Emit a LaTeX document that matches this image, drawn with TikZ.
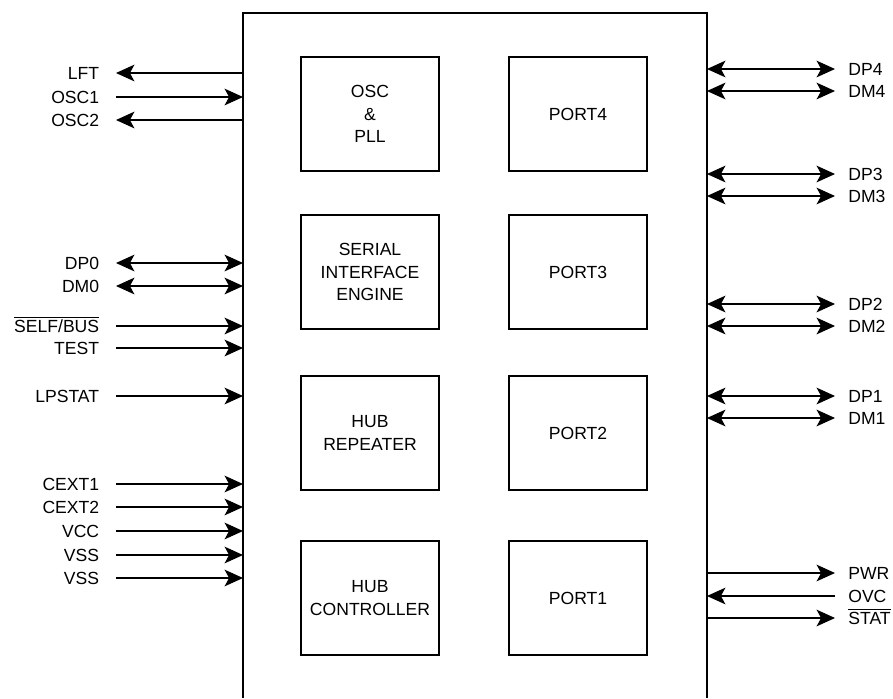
\documentclass[tikz,border=0pt]{standalone}
\usepackage{fontspec}
\setmainfont{Liberation Sans}
\usetikzlibrary{arrows.meta}
\newcommand{\barsig}[1]{$\overline{\mbox{#1}}$}
\begin{document}
\begin{tikzpicture}[x=0.02cm, y=-0.02cm,
    >={Stealth[length=10.5pt, width=9.5pt, inset=2.6pt]},
    blk/.style={draw, line width=1.1pt, minimum width=2.76cm, minimum height=2.28cm,
        align=center, font=\fontsize{10}{13}\selectfont},
    lpin/.style={anchor=east, inner xsep=9.4pt, inner ysep=0pt, text height=7.2pt,
        text depth=0pt, font=\fontsize{10}{12}\selectfont},
    rpin/.style={anchor=west, inner xsep=7.4pt, inner ysep=0pt, text height=7.2pt,
        text depth=0pt, font=\fontsize{10}{12}\selectfont},
    sig/.style={line width=0.6pt}]
            \useasboundingbox (0,0) rectangle (893,698);
            % chip outline, open at the bottom
            \draw[line width=1.1pt] (243,698) -- (243,13) -- (707,13) -- (707,698);
            \coordinate (chipL) at (243,0);
            \coordinate (chipR) at (707,0);
            % blocks inside the chip
            \node[blk] (osc) at (370,114) {OSC\\\&\\PLL};
            \node[blk] (sie) at (370,272) {SERIAL\\INTERFACE\\ENGINE};
            \node[blk] (rep) at (370,433) {HUB\\REPEATER};
            \node[blk] (ctl) at (370,598) {HUB\\CONTROLLER};
            \node[blk] (port4) at (578,114) {PORT4};
            \node[blk] (port3) at (578,272) {PORT3};
            \node[blk] (port2) at (578,433) {PORT2};
            \node[blk] (port1) at (578,598) {PORT1};
            % left pins
            \node[lpin] (lft) at (116,73) {LFT};
            \node[lpin] (osc1) at (116,97) {OSC1};
            \node[lpin] (osc2) at (116,120) {OSC2};
            \node[lpin] (dp0) at (116,263) {DP0};
            \node[lpin] (dm0) at (116,286) {DM0};
            \node[lpin] (self) at (116,326) {\barsig{SELF/BUS}};
            \node[lpin] (test) at (116,348) {TEST};
            \node[lpin] (lpstat) at (116,396) {LPSTAT};
            \node[lpin] (cext1) at (116,484) {CEXT1};
            \node[lpin] (cext2) at (116,507) {CEXT2};
            \node[lpin] (vcc) at (116,531) {VCC};
            \node[lpin] (vssa) at (116,555) {VSS};
            \node[lpin] (vssb) at (116,578) {VSS};
            \draw[sig,<-] (lft.east) -- (lft.east -| chipL);
            \draw[sig,->] (osc1.east) -- (osc1.east -| chipL);
            \draw[sig,<-] (osc2.east) -- (osc2.east -| chipL);
            \draw[sig,<->] (dp0.east) -- (dp0.east -| chipL);
            \draw[sig,<->] (dm0.east) -- (dm0.east -| chipL);
            \draw[sig,->] (self.east) -- (self.east -| chipL);
            \draw[sig,->] (test.east) -- (test.east -| chipL);
            \draw[sig,->] (lpstat.east) -- (lpstat.east -| chipL);
            \draw[sig,->] (cext1.east) -- (cext1.east -| chipL);
            \draw[sig,->] (cext2.east) -- (cext2.east -| chipL);
            \draw[sig,->] (vcc.east) -- (vcc.east -| chipL);
            \draw[sig,->] (vssa.east) -- (vssa.east -| chipL);
            \draw[sig,->] (vssb.east) -- (vssb.east -| chipL);
            % right pins
            \node[rpin] (dp4) at (835,69) {DP4};
            \node[rpin] (dm4) at (835,91) {DM4};
            \node[rpin] (dp3) at (835,174) {DP3};
            \node[rpin] (dm3) at (835,196) {DM3};
            \node[rpin] (dp2) at (835,304) {DP2};
            \node[rpin] (dm2) at (835,326) {DM2};
            \node[rpin] (dp1) at (835,396) {DP1};
            \node[rpin] (dm1) at (835,418) {DM1};
            \node[rpin] (pwr) at (835,573) {PWR};
            \node[rpin] (ovc) at (835,596) {OVC};
            \node[rpin] (stat) at (835,618) {\barsig{STAT}};
            \draw[sig,<->] (dp4.west -| chipR) -- (dp4.west);
            \draw[sig,<->] (dm4.west -| chipR) -- (dm4.west);
            \draw[sig,<->] (dp3.west -| chipR) -- (dp3.west);
            \draw[sig,<->] (dm3.west -| chipR) -- (dm3.west);
            \draw[sig,<->] (dp2.west -| chipR) -- (dp2.west);
            \draw[sig,<->] (dm2.west -| chipR) -- (dm2.west);
            \draw[sig,<->] (dp1.west -| chipR) -- (dp1.west);
            \draw[sig,<->] (dm1.west -| chipR) -- (dm1.west);
            \draw[sig,->] (pwr.west -| chipR) -- (pwr.west);
            \draw[sig,<-] (ovc.west -| chipR) -- (ovc.west);
            \draw[sig,->] (stat.west -| chipR) -- (stat.west);
        \end{tikzpicture}
\end{document}
